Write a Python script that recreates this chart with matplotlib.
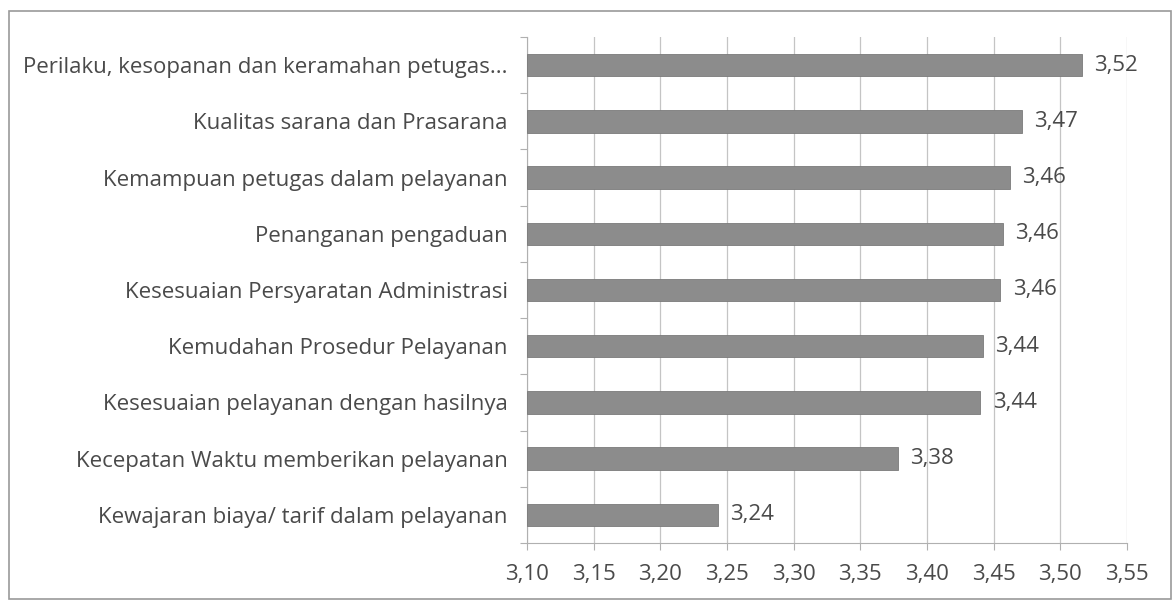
import matplotlib.pyplot as plt
from matplotlib.patches import Rectangle
from matplotlib.ticker import FixedLocator

# top to bottom as in the picture
categories = [
    "Perilaku, kesopanan dan keramahan petugas...",
    "Kualitas sarana dan Prasarana",
    "Kemampuan petugas dalam pelayanan",
    "Penanganan pengaduan",
    "Kesesuaian Persyaratan Administrasi",
    "Kemudahan Prosedur Pelayanan",
    "Kesesuaian pelayanan dengan hasilnya",
    "Kecepatan Waktu memberikan pelayanan",
    "Kewajaran biaya/ tarif dalam pelayanan",
]
values = [3.516, 3.471, 3.462, 3.457, 3.455, 3.442, 3.440, 3.378, 3.243]
x_ticks = [3.10, 3.15, 3.20, 3.25, 3.30, 3.35, 3.40, 3.45, 3.50, 3.55]

TEXT = "#4a4a4a"
BAR = "#8c8c8c"
GRID = "#c4c4c4"
FS = 16

plt.rcParams["font.family"] = ["Open Sans", "DejaVu Sans"]

fig = plt.figure(figsize=(11.73, 6.06), dpi=100)
ax = fig.add_axes([0.4493, 0.104, 0.5115, 0.835])

y = list(range(len(categories)))
ax.barh(y, [v - x_ticks[0] for v in values], left=x_ticks[0], height=0.4,
        color=BAR, edgecolor="#7a7a7a", linewidth=0.6, zorder=3)

for yi, v in zip(y, values):
    ax.annotate(f"{v:.2f}".replace(".", ","), (v, yi), xytext=(9, 0),
                textcoords="offset points", va="center", ha="left",
                fontsize=FS, color=TEXT, zorder=4)

ax.set_ylim(len(categories) - 0.5, -0.5)
ax.set_xlim(x_ticks[0], x_ticks[-1])
ax.set_yticks(y)
ax.set_yticklabels(categories, fontsize=FS, color=TEXT)
ax.yaxis.set_minor_locator(FixedLocator([i - 0.5 for i in range(len(categories) + 1)]))
ax.tick_params(axis="y", which="major", length=0, pad=14)
ax.tick_params(axis="y", which="minor", length=5, color="#b0b0b0", width=0.8)

ax.set_xticks(x_ticks)
ax.set_xticklabels([f"{t:.2f}".replace(".", ",") for t in x_ticks], fontsize=FS, color=TEXT)
ax.tick_params(axis="x", length=5, color="#b0b0b0", width=0.8, pad=10)

ax.grid(axis="x", color=GRID, linewidth=0.9, zorder=0)
for side in ["top", "right"]:
    ax.spines[side].set_visible(False)
ax.spines["left"].set_color("#b0b0b0")
ax.spines["bottom"].set_color("#b0b0b0")

# outer chart frame
fig.patches.append(Rectangle((0.008, 0.012), 0.99, 0.97, transform=fig.transFigure,
                             fill=False, edgecolor="#9a9a9a", linewidth=1.2))

fig.savefig("out.png", dpi=100, facecolor="white")
